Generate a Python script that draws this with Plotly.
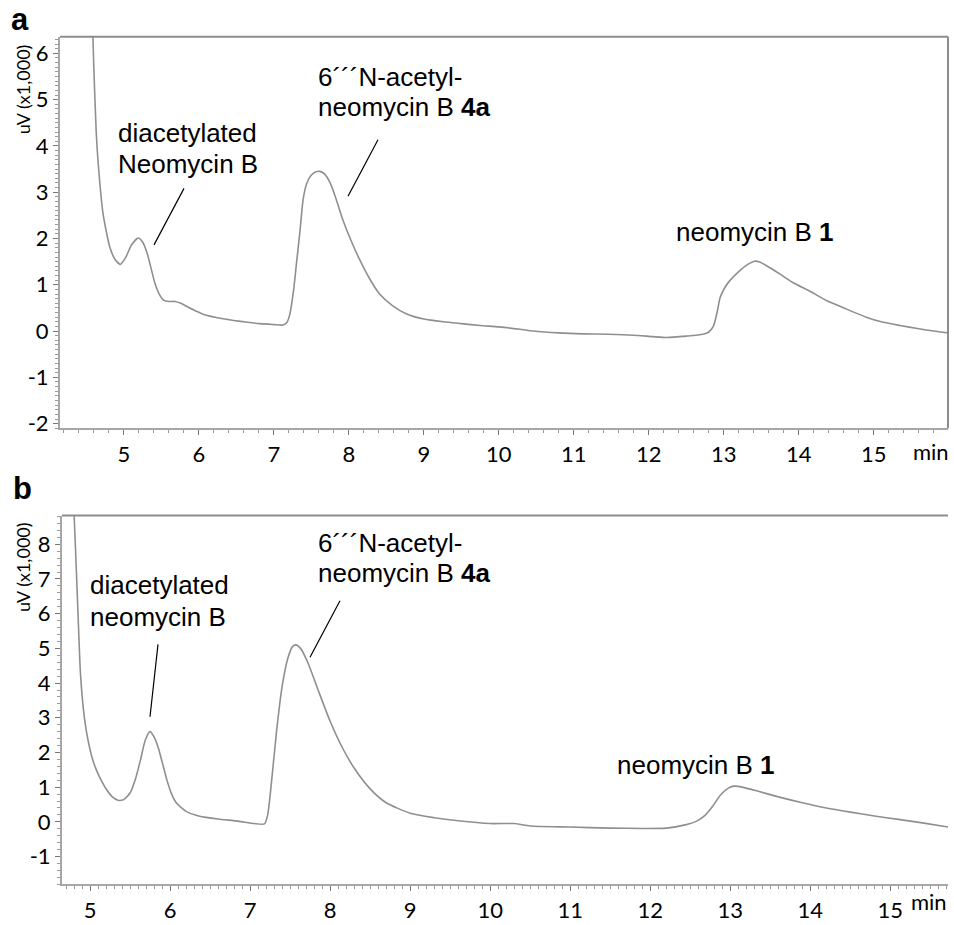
import plotly.graph_objects as go

# ---------------- data ----------------
# Panel a: retention time (min) and detector signal (uV x1,000)
time_a = [4.57, 4.60, 4.63, 4.66, 4.72, 4.81, 4.88, 4.95, 5.02, 5.10, 5.19, 5.25, 5.31,
          5.41, 5.47, 5.53, 5.60, 5.68, 5.76, 5.84, 5.95, 6.10, 6.30, 6.46, 6.65, 6.81,
          7.00, 7.12, 7.17, 7.21, 7.26, 7.30, 7.35, 7.39, 7.44, 7.50, 7.56, 7.61, 7.67,
          7.75, 7.83, 7.92, 8.03, 8.15, 8.28, 8.41, 8.58, 8.77, 9.00, 9.26, 9.50, 9.75,
          10.00, 10.28, 10.46, 10.80, 11.12, 11.45, 11.79, 12.05, 12.24, 12.50, 12.72,
          12.80, 12.86, 12.91, 12.95, 13.01, 13.08, 13.21, 13.32, 13.41, 13.48, 13.57,
          13.75, 13.92, 14.15, 14.37, 14.60, 14.90, 15.10, 15.35, 15.60, 15.80, 16.00]
signal_a = [7.20, 5.60, 4.30, 3.55, 2.55, 1.82, 1.55, 1.44, 1.58, 1.86, 2.01, 1.92, 1.68,
            1.05, 0.80, 0.67, 0.64, 0.64, 0.60, 0.53, 0.44, 0.34, 0.27, 0.23, 0.19, 0.16,
            0.14, 0.13, 0.18, 0.35, 0.85, 1.45, 2.20, 2.85, 3.20, 3.37, 3.44, 3.45, 3.40,
            3.20, 2.85, 2.40, 1.95, 1.52, 1.12, 0.80, 0.55, 0.37, 0.26, 0.20, 0.16, 0.12,
            0.09, 0.04, 0.00, -0.04, -0.06, -0.07, -0.09, -0.12, -0.14, -0.11, -0.07,
            -0.02, 0.10, 0.40, 0.72, 0.93, 1.09, 1.30, 1.44, 1.51, 1.49, 1.41,
            1.23, 1.05, 0.86, 0.66, 0.50, 0.30, 0.20, 0.12, 0.05, 0.00, -0.04]

# Panel b
time_b = [4.79, 4.82, 4.85, 4.88, 4.92, 4.96, 5.02, 5.08, 5.15, 5.21, 5.28, 5.35, 5.42,
          5.50, 5.57, 5.63, 5.69, 5.75, 5.80, 5.85, 5.91, 5.96, 6.02, 6.08, 6.20, 6.37,
          6.60, 6.85, 7.05, 7.18, 7.22, 7.27, 7.33, 7.40, 7.47, 7.53, 7.57, 7.63, 7.72,
          7.85, 8.00, 8.15, 8.30, 8.50, 8.70, 9.00, 9.30, 9.60, 10.00, 10.30, 10.50,
          11.00, 11.50, 11.90, 12.20, 12.45, 12.58, 12.68, 12.78, 12.88, 12.98, 13.05,
          13.15, 13.35, 13.60, 13.90, 14.20, 14.50, 14.80, 15.10, 15.40, 15.72]
signal_b = [9.50, 7.80, 6.00, 4.30, 3.20, 2.54, 1.90, 1.49, 1.15, 0.92, 0.72, 0.62, 0.64,
            0.83, 1.25, 1.78, 2.35, 2.60, 2.45, 2.16, 1.65, 1.21, 0.80, 0.54, 0.30, 0.16,
            0.08, 0.02, -0.05, -0.06, 0.20, 1.20, 2.60, 3.90, 4.70, 5.05, 5.10, 5.00, 4.60,
            3.80, 2.90, 2.15, 1.55, 0.95, 0.55, 0.25, 0.12, 0.03, -0.05, -0.05, -0.12,
            -0.15, -0.18, -0.19, -0.18, -0.08, 0.02, 0.18, 0.45, 0.78, 0.98, 1.03,
            1.00, 0.88, 0.72, 0.55, 0.40, 0.28, 0.17, 0.07, -0.03, -0.15]

xticks_a = [5, 6, 7, 8, 9, 10, 11, 12, 13, 14, 15]
yticks_a = [-2, -1, 0, 1, 2, 3, 4, 5, 6]
xticks_b = [5, 6, 7, 8, 9, 10, 11, 12, 13, 14, 15]
yticks_b = [-1, 0, 1, 2, 3, 4, 5, 6, 7, 8]

W, H = 954, 925
TICKFONT = dict(family="Lato, 'Open Sans', sans-serif", size=22, color="black")
ANNFONT = dict(family="'Liberation Sans', Arial, sans-serif", size=26, color="black")
AXCOL = "#a6a6a6"
FRAME = "#8c8c8c"
CURVE = "#8f8f8f"

fig = go.Figure()
fig.add_trace(go.Scatter(x=time_a, y=signal_a, mode="lines", line=dict(color=CURVE, width=1.6, shape="spline", smoothing=0.6),
                         xaxis="x", yaxis="y", showlegend=False, hoverinfo="skip"))
fig.add_trace(go.Scatter(x=time_b, y=signal_b, mode="lines", line=dict(color=CURVE, width=1.6, shape="spline", smoothing=0.6),
                         xaxis="x2", yaxis="y2", showlegend=False, hoverinfo="skip"))


def px_x(p):
    return p / W


def px_y(p):
    return 1 - p / H


def axis_common():
    return dict(showgrid=False, zeroline=False, showline=True, linecolor=AXCOL, linewidth=2,
                ticks="outside", ticklen=5, tickwidth=1, tickcolor="#777", tickfont=TICKFONT)


fig.update_layout(
    width=W, height=H, margin=dict(l=0, r=0, t=0, b=0),
    paper_bgcolor="white", plot_bgcolor="white",
    xaxis=dict(**axis_common(), domain=[px_x(60), px_x(948)], range=[4.147, 15.99], anchor="y",
               tickvals=xticks_a, ticktext=[str(v) for v in xticks_a],
               minor=dict(dtick=0.2, ticklen=3, ticks="outside", tickcolor="#999")),
    yaxis=dict(**axis_common(), domain=[px_y(432), px_y(37)], range=[-2.1, 6.36], anchor="x",
               tickvals=yticks_a, ticktext=[str(v) for v in yticks_a],
               minor=dict(dtick=0.1, ticklen=3, ticks="outside", tickcolor="#999")),
    xaxis2=dict(**axis_common(), domain=[px_x(62), px_x(948)], range=[4.65, 15.72], anchor="y2",
                tickvals=xticks_b, ticktext=[str(v) for v in xticks_b],
                minor=dict(dtick=0.1, ticklen=3, ticks="outside", tickcolor="#999")),
    yaxis2=dict(**axis_common(), domain=[px_y(892), px_y(520)], range=[-1.8, 8.83], anchor="x2",
                tickvals=yticks_b, ticktext=[str(v) for v in yticks_b],
                minor=dict(dtick=0.2, ticklen=3, ticks="outside", tickcolor="#999")),
)

shapes = []
# frame lines (top of both panels, right of panel a)
shapes.append(dict(type="line", xref="x domain", yref="y domain", x0=0, x1=1, y0=1, y1=1,
                   line=dict(color=FRAME, width=2)))
shapes.append(dict(type="line", xref="x domain", yref="y domain", x0=1, x1=1, y0=0, y1=1,
                   line=dict(color=FRAME, width=2)))
shapes.append(dict(type="line", xref="x2 domain", yref="y2 domain", x0=0, x1=1, y0=1, y1=1,
                   line=dict(color=FRAME, width=2)))
# leader lines (paper pixel positions)
leaders = [(378, 141, 348, 198), (184, 190, 154, 247), (158, 650, 150, 723), (340, 606, 310, 663)]
for x0, y0, x1, y1 in leaders:
    shapes.append(dict(type="line", xref="paper", yref="paper", x0=px_x(x0), y0=px_y(y0),
                       x1=px_x(x1), y1=px_y(y1), line=dict(color="black", width=1.2)))
fig.update_layout(shapes=shapes)

ann = []


def text(x, y, s, font=ANNFONT, xanchor="left", yanchor="middle", angle=0):
    ann.append(dict(xref="paper", yref="paper", x=px_x(x), y=px_y(y), text=s, showarrow=False,
                    font=font, xanchor=xanchor, yanchor=yanchor, textangle=angle, align="left"))


BOLD = dict(family="'Liberation Sans', Arial, sans-serif", size=31, color="black")
text(9, 20, "<b>a</b>", BOLD)
text(11, 493, "<b>b</b>", BOLD)
YT = dict(family="Lato, 'Open Sans', sans-serif", size=18, color="black")
text(23, 90, "uV (x1,000)", YT, xanchor="center", angle=-90)
text(23, 572, "uV (x1,000)", YT, xanchor="center", angle=-90)
text(931, 455, "min", TICKFONT, xanchor="center")
text(929, 909, "min", TICKFONT, xanchor="center", yanchor="bottom" if False else "middle")

# panel a labels
text(116, 134, "diacetylated", ANNFONT)
text(116, 165, "Neomycin B", ANNFONT)
text(316, 78, "6´´´N-acetyl-", ANNFONT)
text(316, 108, "neomycin B <b>4a</b>", ANNFONT)
text(674, 234, "neomycin B <b>1</b>", ANNFONT)
# panel b labels
text(88, 590, "diacetylated", ANNFONT)
text(88, 622, "neomycin B", ANNFONT)
text(316, 548, "6´´´N-acetyl-", ANNFONT)
text(316, 578, "neomycin B <b>4a</b>", ANNFONT)
text(615, 772, "neomycin B <b>1</b>", ANNFONT)
fig.update_layout(annotations=ann)

fig.write_html("out.html")
